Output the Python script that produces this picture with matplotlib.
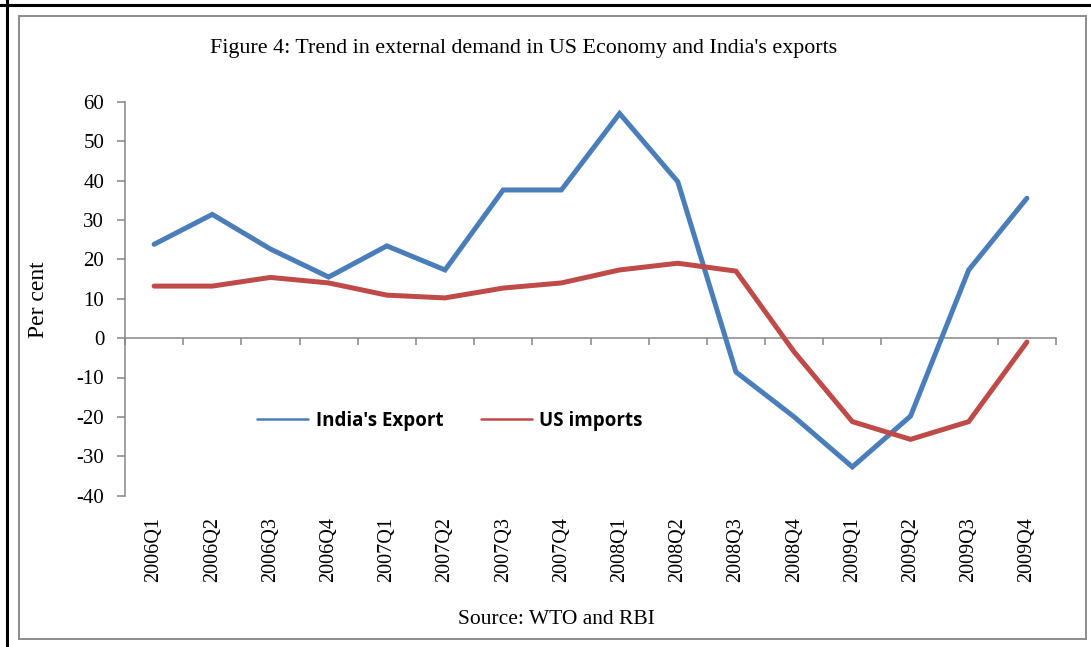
import matplotlib
matplotlib.use("Agg")
import matplotlib.pyplot as plt
from matplotlib.patches import Rectangle
from matplotlib.lines import Line2D
from matplotlib.ticker import FixedLocator, NullFormatter
import numpy as np

quarters = ["2006Q1", "2006Q2", "2006Q3", "2006Q4", "2007Q1", "2007Q2", "2007Q3", "2007Q4",
            "2008Q1", "2008Q2", "2008Q3", "2008Q4", "2009Q1", "2009Q2", "2009Q3", "2009Q4"]
india_export = [23.8, 31.4, 22.6, 15.5, 23.4, 17.3, 37.6, 37.6,
                57.0, 39.7, -8.6, -20.0, -32.7, -19.8, 17.3, 35.5]
us_imports = [13.2, 13.2, 15.4, 14.0, 10.9, 10.2, 12.7, 14.0,
              17.3, 19.0, 17.0, -3.5, -21.2, -25.7, -21.2, -1.0]
yticks = [60, 50, 40, 30, 20, 10, 0, -10, -20, -30, -40]

W, H = 1091, 647
fig = plt.figure(figsize=(W / 100, H / 100), dpi=100)
fig.patch.set_facecolor("white")

serif = ["Liberation Serif", "DejaVu Serif"]
gray = "#868686"

ax = fig.add_axes([125 / W, 1 - 495.7 / H, (1056 - 125) / W, (495.7 - 101.7) / H])
x = np.arange(len(quarters))
ax.plot(x, india_export, color="#4A7EBB", lw=3.6, solid_capstyle="round",
        solid_joinstyle="miter", label="India's Export", zorder=3)
ax.plot(x, us_imports, color="#BE4B48", lw=3.6, solid_capstyle="round",
        solid_joinstyle="miter", label="US imports", zorder=3)

ax.set_xlim(-0.5, len(quarters) - 0.5)
ax.set_ylim(min(yticks), max(yticks))
ax.set_yticks(yticks)
ax.set_yticklabels([str(v) for v in yticks], fontfamily=serif, fontsize=15)
ax.tick_params(axis="y", direction="out", length=6, width=1.1, color=gray, pad=9)

for s in ["top", "right"]:
    ax.spines[s].set_visible(False)
ax.spines["left"].set_color(gray)
ax.spines["left"].set_linewidth(1.1)
ax.spines["bottom"].set_position(("data", 0))
ax.spines["bottom"].set_color(gray)
ax.spines["bottom"].set_linewidth(1.1)

ax.xaxis.set_major_locator(FixedLocator(x))
ax.xaxis.set_major_formatter(NullFormatter())
ax.xaxis.set_minor_locator(FixedLocator(np.arange(len(quarters) + 1) - 0.5))
ax.tick_params(axis="x", which="major", length=0)
ax.tick_params(axis="x", which="minor", direction="out", length=5, width=1.1, color=gray)

trans = ax.get_xaxis_transform()
for i, q in enumerate(quarters):
    ax.text(i, -0.055, q, transform=trans, rotation=90, ha="center", va="top",
            fontfamily=serif, fontsize=14.5)

fig.text(39 / W, 1 - 300 / H, "Per cent", rotation=90, ha="center", va="center",
         fontfamily=serif, fontsize=17)

leg = ax.legend(loc="center", bbox_to_anchor=(0.349, 0.19), ncol=2, frameon=False,
                prop={"family": ["Open Sans", "DejaVu Sans"], "weight": "bold", "size": 13.5},
                handlelength=2.72, handletextpad=0.38, columnspacing=2.0)
for ln in leg.get_lines():
    ln.set_linewidth(1.8)

fig.text(524 / W, 1 - 49 / H, "Figure 4: Trend in external demand in US Economy and India's exports",
         ha="center", va="center", fontfamily=serif, fontsize=15.8)
fig.text(556 / W, 1 - 620 / H, "Source: WTO and RBI", ha="center", va="center",
         fontfamily=serif, fontsize=15.5)

# frames
fig.add_artist(Rectangle((19 / W, 1 - 639 / H), (1086 - 19) / W, (639 - 16) / H,
                         transform=fig.transFigure, fill=False, edgecolor="#8C8C8C", lw=1.4))
fig.add_artist(Line2D([0, 1], [1 - 5 / H, 1 - 5 / H], transform=fig.transFigure,
                      color="black", lw=2.2))
fig.add_artist(Line2D([7 / W, 7 / W], [0, 1], transform=fig.transFigure,
                      color="black", lw=2.2))

fig.savefig("out.png", dpi=100)
